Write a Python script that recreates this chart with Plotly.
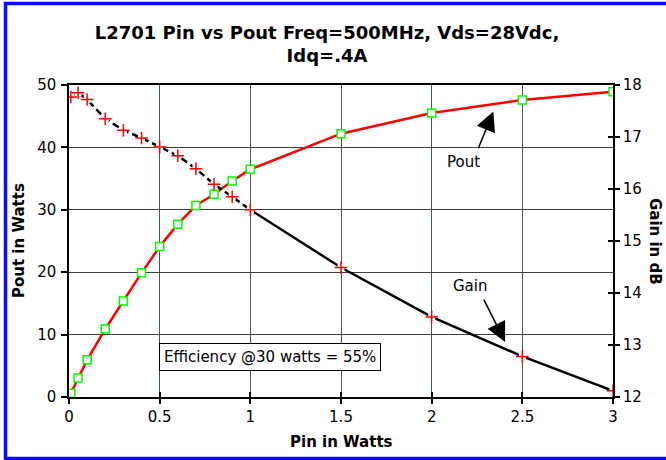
import plotly.graph_objects as go

# ---- data ----
pin = [0.01, 0.05, 0.1, 0.2, 0.3, 0.4, 0.5, 0.6, 0.7, 0.8, 0.9, 1.0, 1.5, 2.0, 2.5, 3.0]
pout = [0.6, 3.05, 5.95, 10.9, 15.4, 19.9, 24.1, 27.7, 30.7, 32.5, 34.6, 36.5, 42.2, 45.5, 47.6, 48.9]
gain = [17.77, 17.85, 17.72, 17.35, 17.13, 16.98, 16.81, 16.64, 16.39, 16.09, 15.85, 15.60, 14.49, 13.54, 12.78, 12.12]
x_ticks = [0, 0.5, 1, 1.5, 2, 2.5, 3]
x_tick_text = ["0", "0.5", "1", "1.5", "2", "2.5", "3"]
pout_ticks = [0, 10, 20, 30, 40, 50]
gain_ticks = [12, 13, 14, 15, 16, 17, 18]

title_text = "L2701 Pin vs Pout Freq=500MHz, Vds=28Vdc,<br>Idq=.4A"
eff_text = "Efficiency @30 watts = 55%"

FONT = "DejaVu Sans, Arial, sans-serif"

# split gain into dashed (<=1 W) and solid (>=1 W) parts
k = pin.index(1.0)

fig = go.Figure()

fig.add_trace(go.Scatter(
    x=pin[:k + 1], y=gain[:k + 1], mode="lines", name="Gain",
    line=dict(color="black", width=2.5, dash="7px,4px"),
    yaxis="y2", showlegend=False))
fig.add_trace(go.Scatter(
    x=pin[k:], y=gain[k:], mode="lines", name="Gain",
    line=dict(color="black", width=2.5),
    yaxis="y2", showlegend=False))
# white backing behind the crosses (line gap as in the reference)
fig.add_trace(go.Scatter(
    x=pin, y=gain, mode="markers", name="Gain",
    marker=dict(symbol="square", size=7, color="white", line=dict(width=0)),
    yaxis="y2", showlegend=False, hoverinfo="skip"))
fig.add_trace(go.Scatter(
    x=pin, y=gain, mode="markers", name="Gain",
    marker=dict(symbol="cross-thin-open", size=9, color="#ff0000",
                line=dict(color="#ff0000", width=1.5)),
    yaxis="y2", showlegend=False))

fig.add_trace(go.Scatter(
    x=pin, y=pout, mode="lines+markers", name="Pout",
    line=dict(color="#ff0000", width=2.5),
    marker=dict(symbol="square", size=8, color="white",
                line=dict(color="#00ff00", width=1.5)),
    yaxis="y", showlegend=False))

tickfont = dict(family=FONT, size=15, color="black")
titlefont = dict(family=FONT, size=15, color="black", weight="bold")

fig.update_layout(
    width=666, height=460,
    margin=dict(l=69, r=53, t=85, b=63),
    paper_bgcolor="white", plot_bgcolor="white",
    title=dict(text=title_text, x=327 / 666, xanchor="center",
               y=1 - 39 / 460, yanchor="middle",
               font=dict(family=FONT, size=18, color="black", weight="bold")),
    xaxis=dict(range=[0, 3], tickvals=x_ticks, ticktext=x_tick_text,
               showgrid=True, gridcolor="#3d5e3d", gridwidth=1,
               showline=True, linecolor="black", linewidth=1.5, mirror=True,
               ticks="outside", ticklen=5, tickcolor="black", tickwidth=1.5,
               tickfont=tickfont, zeroline=False),
    xaxis2=dict(range=[0, 3], tickvals=x_ticks, overlaying="x", anchor="y",
                showticklabels=False, showgrid=False, ticks="inside",
                ticklen=5, tickcolor="black", tickwidth=1.5, zeroline=False),
    yaxis=dict(range=[0, 50], tickvals=pout_ticks,
               showgrid=True, gridcolor="#404040", gridwidth=1,
               showline=True, linecolor="black", linewidth=1.5, mirror=True,
               ticks="outside", ticklen=6, tickcolor="black", tickwidth=1.5,
               tickfont=tickfont, zeroline=False, ticklabelstandoff=2),
    yaxis2=dict(range=[12, 18], tickvals=gain_ticks, overlaying="y", side="right",
                showgrid=False, showline=True, linecolor="black", linewidth=1.5,
                ticks="outside", ticklen=5, tickcolor="black", tickwidth=1.5,
                tickfont=tickfont, zeroline=False),
    yaxis3=dict(range=[12, 18], tickvals=gain_ticks, overlaying="y", side="right",
                anchor="x", showticklabels=False, showgrid=False,
                ticks="inside", ticklen=5, tickcolor="black", tickwidth=1.5,
                zeroline=False),
)

# dummy invisible trace so the cross-tick overlay axes render
fig.add_trace(go.Scatter(x=[0], y=[12], xaxis="x2", yaxis="y3", mode="markers",
                         marker=dict(opacity=0), hoverinfo="skip", showlegend=False))

annotations = [
    dict(text="Pout in Watts", xref="paper", yref="paper", x=(19 - 69) / 544, y=0.5,
         textangle=-90, showarrow=False, font=titlefont,
         xanchor="center", yanchor="middle"),
    dict(text="Gain in dB", xref="paper", yref="paper", x=(655 - 69) / 544, y=0.5,
         textangle=90, showarrow=False, font=titlefont,
         xanchor="center", yanchor="middle"),
    dict(text="Pin in Watts", xref="paper", yref="paper", x=0.5, y=(397 - 441.7) / 312,
         showarrow=False, font=titlefont, xanchor="center", yanchor="middle"),
    dict(text=eff_text, xref="x", yref="y", x=1.109, y=6.37, showarrow=False,
         font=dict(family=FONT, size=15, color="black"),
         bgcolor="white", bordercolor="black", borderwidth=1, borderpad=4,
         xanchor="center", yanchor="middle"),
    dict(text="Pout", xref="x", yref="y", x=2.173, y=37.69, showarrow=False,
         font=dict(family=FONT, size=15, color="black")),
    dict(text="Gain", xref="x", yref="y", x=2.212, y=17.78, showarrow=False,
         font=dict(family=FONT, size=15, color="black")),
    dict(text="", xref="x", yref="y", x=2.340, y=45.77, ax=-15.6, ay=38.3,
         showarrow=True, arrowhead=2, arrowsize=2.6, arrowwidth=1.5, arrowcolor="black"),
    dict(text="", xref="x", yref="y", x=2.405, y=8.83, ax=-22, ay=-43.7,
         showarrow=True, arrowhead=2, arrowsize=2.6, arrowwidth=1.5, arrowcolor="black"),
]
fig.update_layout(annotations=annotations)

# blue frame (right edge lies outside the picture)
fig.add_shape(type="rect", xref="paper", yref="paper",
              x0=(5.5 - 69) / 544, x1=1.25,
              y0=(397 - 458.5) / 312, y1=(397 - 3.5) / 312,
              line=dict(color="#0a0aff", width=3.5), fillcolor="rgba(0,0,0,0)",
              layer="below")

fig.write_html("out.html", config={"displayModeBar": False},
               post_script="document.body.style.margin='0';document.body.style.overflow='hidden';")
